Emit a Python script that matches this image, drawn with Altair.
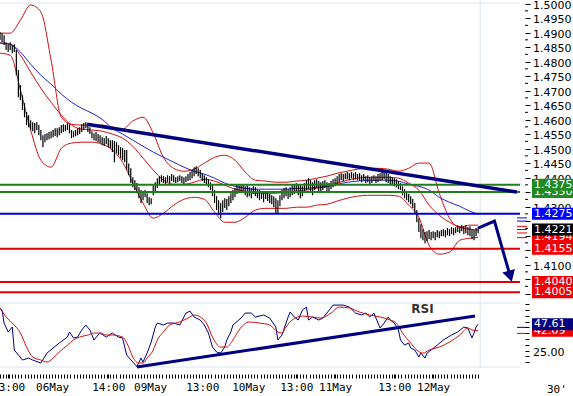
import altair as alt
import pandas as pd

# ---------------- data ----------------
BAR_HIGH = [
    1.4902, 1.4898, 1.4891, 1.4867, 1.4860, 1.4867, 1.4857, 1.4860, 1.4840, 1.4771,
    1.4719, 1.4684, 1.4657, 1.4626, 1.4615, 1.4598, 1.4591, 1.4588, 1.4591, 1.4581,
    1.4564, 1.4546, 1.4550, 1.4553, 1.4557, 1.4560, 1.4564, 1.4570, 1.4570, 1.4574,
    1.4581, 1.4584, 1.4581, 1.4588, 1.4584, 1.4564, 1.4560, 1.4564, 1.4570, 1.4574,
    1.4584, 1.4588, 1.4591, 1.4584, 1.4574, 1.4560, 1.4553, 1.4557, 1.4550, 1.4546,
    1.4539, 1.4536, 1.4543, 1.4536, 1.4529, 1.4529, 1.4526, 1.4522, 1.4512, 1.4505,
    1.4502, 1.4495, 1.4495, 1.4449, 1.4432, 1.4401, 1.4391, 1.4381, 1.4367, 1.4357,
    1.4350, 1.4357, 1.4346, 1.4332, 1.4329, 1.4374, 1.4384, 1.4398, 1.4405, 1.4408,
    1.4405, 1.4401, 1.4408, 1.4405, 1.4412, 1.4408, 1.4401, 1.4405, 1.4408, 1.4405,
    1.4401, 1.4405, 1.4412, 1.4419, 1.4426, 1.4436, 1.4439, 1.4432, 1.4426, 1.4415,
    1.4408, 1.4401, 1.4394, 1.4384, 1.4374, 1.4357, 1.4336, 1.4322, 1.4312, 1.4322,
    1.4329, 1.4326, 1.4336, 1.4346, 1.4357, 1.4364, 1.4374, 1.4377, 1.4374, 1.4377,
    1.4370, 1.4374, 1.4367, 1.4364, 1.4370, 1.4367, 1.4360, 1.4357, 1.4353, 1.4350,
    1.4353, 1.4346, 1.4343, 1.4339, 1.4336, 1.4329, 1.4322, 1.4339, 1.4357, 1.4364,
    1.4367, 1.4360, 1.4367, 1.4374, 1.4377, 1.4381, 1.4374, 1.4377, 1.4370, 1.4381,
    1.4391, 1.4398, 1.4391, 1.4384, 1.4391, 1.4394, 1.4388, 1.4384, 1.4388, 1.4391,
    1.4384, 1.4381, 1.4388, 1.4394, 1.4398, 1.4405, 1.4412, 1.4415, 1.4412, 1.4415,
    1.4419, 1.4415, 1.4419, 1.4415, 1.4419, 1.4412, 1.4415, 1.4408, 1.4412, 1.4405,
    1.4408, 1.4401, 1.4405, 1.4408, 1.4405, 1.4412, 1.4415, 1.4419, 1.4426, 1.4422,
    1.4412, 1.4405, 1.4401, 1.4398, 1.4394, 1.4388, 1.4381, 1.4370, 1.4360, 1.4353,
    1.4343, 1.4336, 1.4326, 1.4312, 1.4288, 1.4260, 1.4239, 1.4222, 1.4212, 1.4215,
    1.4219, 1.4212, 1.4215, 1.4212, 1.4219, 1.4215, 1.4219, 1.4222, 1.4219, 1.4226,
    1.4222, 1.4229, 1.4226, 1.4229, 1.4236, 1.4232, 1.4236, 1.4232, 1.4236, 1.4229,
    1.4232, 1.4222, 1.4219, 1.4226, 1.4229,
]
BAR_LOW = [
    1.4874, 1.4867, 1.4857, 1.4840, 1.4833, 1.4840, 1.4829, 1.4833, 1.4753, 1.4677,
    1.4667, 1.4633, 1.4608, 1.4581, 1.4574, 1.4564, 1.4560, 1.4553, 1.4564, 1.4546,
    1.4529, 1.4505, 1.4522, 1.4529, 1.4532, 1.4536, 1.4539, 1.4543, 1.4539, 1.4546,
    1.4553, 1.4557, 1.4560, 1.4564, 1.4553, 1.4536, 1.4539, 1.4543, 1.4546, 1.4550,
    1.4557, 1.4564, 1.4570, 1.4557, 1.4550, 1.4536, 1.4529, 1.4526, 1.4522, 1.4519,
    1.4512, 1.4509, 1.4515, 1.4505, 1.4502, 1.4488, 1.4453, 1.4484, 1.4477, 1.4467,
    1.4460, 1.4453, 1.4426, 1.4408, 1.4381, 1.4367, 1.4357, 1.4346, 1.4329, 1.4312,
    1.4322, 1.4332, 1.4312, 1.4305, 1.4308, 1.4339, 1.4346, 1.4364, 1.4377, 1.4384,
    1.4381, 1.4377, 1.4384, 1.4381, 1.4388, 1.4384, 1.4381, 1.4384, 1.4388, 1.4381,
    1.4377, 1.4384, 1.4388, 1.4391, 1.4398, 1.4405, 1.4412, 1.4405, 1.4398, 1.4388,
    1.4381, 1.4377, 1.4367, 1.4357, 1.4336, 1.4312, 1.4288, 1.4270, 1.4260, 1.4281,
    1.4295, 1.4288, 1.4301, 1.4312, 1.4322, 1.4332, 1.4343, 1.4350, 1.4346, 1.4353,
    1.4339, 1.4332, 1.4336, 1.4329, 1.4343, 1.4336, 1.4329, 1.4322, 1.4326, 1.4315,
    1.4326, 1.4319, 1.4312, 1.4308, 1.4298, 1.4277, 1.4277, 1.4301, 1.4322, 1.4329,
    1.4336, 1.4326, 1.4332, 1.4339, 1.4343, 1.4350, 1.4339, 1.4329, 1.4336, 1.4346,
    1.4357, 1.4360, 1.4353, 1.4339, 1.4357, 1.4364, 1.4350, 1.4346, 1.4357, 1.4364,
    1.4353, 1.4346, 1.4360, 1.4367, 1.4370, 1.4377, 1.4384, 1.4391, 1.4388, 1.4394,
    1.4394, 1.4391, 1.4398, 1.4391, 1.4394, 1.4391, 1.4388, 1.4384, 1.4391, 1.4381,
    1.4384, 1.4377, 1.4381, 1.4388, 1.4381, 1.4384, 1.4388, 1.4391, 1.4394, 1.4384,
    1.4381, 1.4377, 1.4374, 1.4370, 1.4367, 1.4360, 1.4357, 1.4339, 1.4329, 1.4322,
    1.4315, 1.4308, 1.4295, 1.4277, 1.4246, 1.4212, 1.4191, 1.4184, 1.4174, 1.4181,
    1.4188, 1.4184, 1.4191, 1.4184, 1.4194, 1.4191, 1.4198, 1.4198, 1.4194, 1.4201,
    1.4198, 1.4205, 1.4201, 1.4208, 1.4212, 1.4208, 1.4215, 1.4205, 1.4208, 1.4201,
    1.4198, 1.4188, 1.4184, 1.4198, 1.4208,
]

BAND_IDX = [0, 5, 10, 15, 20, 25, 30, 35, 40, 45, 50, 55, 60, 65, 70, 75, 80, 85, 90, 95,
            100, 105, 110, 115, 120, 125, 130, 135, 140, 145, 150, 155, 160, 165, 170, 175,
            180, 185, 190, 195, 200, 205, 210, 215, 220, 225, 230, 234]
BB_UPPER = [1.4898, 1.4898, 1.4943, 1.4995, 1.4971, 1.4805, 1.4608, 1.4584, 1.4581, 1.4581,
            1.4581, 1.4574, 1.4567, 1.4595, 1.4608, 1.4553, 1.4470, 1.4432, 1.4422, 1.4429,
            1.4450, 1.4470, 1.4477, 1.4460, 1.4419, 1.4391, 1.4388, 1.4384, 1.4384, 1.4388,
            1.4391, 1.4398, 1.4405, 1.4415, 1.4422, 1.4429, 1.4432, 1.4432, 1.4429, 1.4422,
            1.4432, 1.4450, 1.4450, 1.4346, 1.4260, 1.4229, 1.4236, 1.4236]
BB_MID = [1.4864, 1.4860, 1.4822, 1.4764, 1.4708, 1.4660, 1.4615, 1.4581, 1.4567, 1.4564,
          1.4560, 1.4550, 1.4536, 1.4508, 1.4467, 1.4426, 1.4391, 1.4377, 1.4377, 1.4384,
          1.4394, 1.4388, 1.4374, 1.4360, 1.4353, 1.4346, 1.4346, 1.4346, 1.4350, 1.4353,
          1.4357, 1.4363, 1.4370, 1.4381, 1.4391, 1.4398, 1.4401, 1.4401, 1.4401, 1.4398,
          1.4381, 1.4357, 1.4305, 1.4270, 1.4246, 1.4229, 1.4222, 1.4219]
BB_LOWER = [1.4829, 1.4822, 1.4702, 1.4564, 1.4460, 1.4436, 1.4501, 1.4519, 1.4522, 1.4522,
            1.4515, 1.4495, 1.4453, 1.4381, 1.4312, 1.4260, 1.4277, 1.4305, 1.4325, 1.4332,
            1.4325, 1.4281, 1.4246, 1.4246, 1.4263, 1.4288, 1.4294, 1.4294, 1.4294, 1.4298,
            1.4298, 1.4305, 1.4308, 1.4319, 1.4329, 1.4336, 1.4339, 1.4339, 1.4339, 1.4336,
            1.4305, 1.4263, 1.4167, 1.4136, 1.4143, 1.4184, 1.4191, 1.4194]
MA_LONG = [1.4864, 1.4860, 1.4833, 1.4791, 1.4753, 1.4722, 1.4688, 1.4660, 1.4639, 1.4622,
           1.4601, 1.4570, 1.4550, 1.4529, 1.4508, 1.4488, 1.4470, 1.4453, 1.4436, 1.4422,
           1.4412, 1.4398, 1.4381, 1.4370, 1.4363, 1.4360, 1.4360, 1.4360, 1.4360, 1.4363,
           1.4363, 1.4367, 1.4370, 1.4377, 1.4384, 1.4388, 1.4391, 1.4391, 1.4391, 1.4388,
           1.4377, 1.4370, 1.4357, 1.4332, 1.4315, 1.4301, 1.4284, 1.4274]

RSI_IDX = [0, 1, 2, 4, 6, 7, 9, 11, 14, 16, 20, 23, 26, 29, 33, 34, 36, 38, 40, 42,
           44, 46, 48, 49, 52, 55, 58, 60, 62, 65, 67, 69, 70, 72, 74, 76, 77, 80, 82, 85,
           88, 91, 93, 95, 98, 100, 102, 104, 106, 108, 110, 111, 113, 114, 118, 120, 123, 125, 129, 132,
           135, 136, 138, 141, 142, 144, 146, 148, 150, 151, 153, 156, 158, 160, 163, 166, 168, 171, 174, 177,
           179, 181, 183, 184, 186, 188, 190, 191, 193, 195, 196, 198, 200, 201, 203, 205, 206, 208, 209, 211,
           214, 217, 221, 224, 227, 229, 231, 232, 233, 234]
RSI_VAL = [61.6, 59.9, 48.7, 41.0, 45.3, 25.4, 21.1, 16.8, 18.5, 16.8, 14.2, 22.8, 27.2, 31.5, 36.6, 41.0, 35.8, 36.6, 42.7, 47.0,
           42.7, 34.1, 38.4, 40.1, 36.6, 40.1, 36.6, 35.8, 21.1, 15.1, 11.2, 18.5, 15.1, 22.8, 32.3, 45.3, 48.7, 47.0, 48.7, 48.7,
           47.0, 57.3, 59.0, 53.9, 51.3, 47.0, 40.1, 28.0, 23.7, 22.8, 28.0, 34.1, 41.0, 47.0, 53.0, 57.3, 57.3, 53.9, 55.6, 53.0,
           45.3, 34.1, 38.4, 53.9, 58.2, 53.9, 51.3, 59.9, 62.5, 51.3, 53.9, 51.3, 53.0, 57.3, 64.2, 64.2, 64.2, 62.5, 57.3, 55.6,
           57.3, 53.9, 57.3, 53.0, 44.4, 48.7, 53.9, 51.3, 48.7, 42.7, 34.1, 29.7, 31.5, 27.2, 25.4, 19.4, 22.8, 18.5, 22.8, 25.4,
           29.7, 34.1, 38.4, 41.0, 45.3, 44.4, 35.8, 40.1, 45.3, 47.61]
SIG_IDX = [0, 3, 6, 10, 13, 16, 20, 23, 26, 29, 33, 36, 39, 43, 46, 49, 52, 55, 60, 63,
           65, 68, 70, 72, 75, 77, 80, 83, 88, 92, 95, 98, 101, 104, 108, 111, 114, 117, 122, 127,
           132, 136, 138, 140, 143, 148, 153, 157, 162, 166, 171, 176, 181, 186, 191, 194, 197, 201, 204, 207,
           210, 215, 220, 225, 229, 231, 234]
SIG_VAL = [61.6, 53.9, 48.7, 40.1, 28.0, 19.4, 16.8, 15.1, 18.5, 23.7, 29.7, 34.1, 36.6, 38.4, 40.1, 40.1, 38.4, 38.4, 36.6, 28.0,
           19.4, 14.2, 14.2, 18.5, 25.4, 34.1, 41.0, 47.0, 49.6, 53.0, 55.6, 53.9, 48.7, 36.6, 28.0, 28.0, 34.1, 42.7, 49.6, 48.7,
           47.0, 41.0, 40.1, 45.3, 51.3, 54.7, 53.9, 53.0, 57.3, 62.5, 61.6, 58.2, 55.6, 53.9, 51.3, 48.7, 40.1, 31.5, 25.4, 22.8,
           25.4, 28.0, 32.3, 38.4, 44.4, 42.7, 42.09]

TREND_IDX = [42.6, 253.0]
TREND_PRICE = [1.4584, 1.4350]
ARROW_IDX = [234, 242, 249.7]
ARROW_PRICE = [1.4226, 1.4250, 1.4060]
RSI_TREND_IDX = [67, 232.5]
RSI_TREND_VAL = [10.8, 54.7]

LEVEL_PRICE = [1.4375, 1.4350, 1.4275, 1.4155, 1.4040, 1.4005]
LEVEL_KIND = ['green', 'green', 'blue', 'red', 'red', 'red']

# right-hand value boxes, in drawing order (later ones cover earlier ones)
BOX_PRICE = [1.4350, 1.4375, 1.4275, 1.4194, 1.4221, 1.4155, 1.4040, 1.4005]
BOX_KIND = ['green', 'green', 'blue', 'red', 'black', 'red', 'red', 'red']
RSI_BOX_VAL = [42.09, 47.61]
RSI_BOX_KIND = ['red', 'navy']

MARK_PRICE = [1.4261, 1.4250, 1.4232, 1.4221, 1.4209, 1.4193]
MARK_KIND = ['blue', 'blue', 'red', 'red', 'red', 'red']
RSI_MARK_VAL = [45.0, 39.8]
RSI_MARK_KIND = ['navy', 'red']

# price scale: long ticks every 0.0050, short ticks in between; labels that are not hidden by boxes
P_TICKS = [round(1.4000 + 0.005 * k, 4) for k in range(21)]
P_MINOR = [round(1.40250 + 0.005 * k, 5) for k in range(20)]
P_LABELS = [1.5000, 1.4950, 1.4900, 1.4850, 1.4800, 1.4750, 1.4700, 1.4650, 1.4600, 1.4550,
            1.4500, 1.4450, 1.4400, 1.4300, 1.4100]
R_TICKS = [15, 20, 25, 30, 35, 40, 45, 50, 55, 60, 65]
R_LABELS = [25.0]

DATE_IDX = [4, 25.5, 53, 73.5, 99, 121.5, 145, 164, 193, 212]
DATE_LABELS = ['13:00', '06May', '14:00', '09May', '13:00', '10May', '13:00', '11May', '13:00', '12May']

NOW_IDX = [235]
P_DOMAIN = [1.3990, 1.5002]
R_DOMAIN = [10.8, 66.0]
X_DOMAIN = [0, 254.5]

# ---------------- styling ----------------
COL = {'green': '#1f7f1f', 'blue': '#0000d8', 'red': '#e00000', 'black': '#000000', 'navy': '#000080'}
BOXCOL = {'green': '#1f8a1f', 'blue': '#0000ff', 'red': '#f00000', 'black': '#000000', 'navy': '#000080'}
FRAME = '#dbe5ec'
BB_RED = '#cc1111'
MA_BLUE = '#2222cc'
NAVY = '#000080'

xs = alt.Scale(domain=X_DOMAIN, nice=False, zero=False)
ps = alt.Scale(domain=P_DOMAIN, range=[296.5, 3], nice=False, zero=False)
rs = alt.Scale(domain=R_DOMAIN, range=[367, 303], nice=False, zero=False)

tick_vals = sorted(set([round(k * 1.5, 2) for k in range(157)] + DATE_IDX))
label_expr = ''.join(f"datum.value == {v} ? '{t}' : " for v, t in zip(DATE_IDX, DATE_LABELS)) + "''"
x_axis = alt.Axis(orient='bottom', values=tick_vals, labelExpr=label_expr, offset=6, tickSize=4,
                  tickColor='black', domain=False, grid=False, labelFont='DejaVu Sans Mono',
                  labelFontSize=11, labelColor='black', labelPadding=3, labelOverlap=False,
                  labelFlush=False, labelAngle=0, title=None, zindex=0)
p_axis = alt.Axis(orient='right', values=P_TICKS, labels=False, offset=5, tickSize=5,
                  tickColor='black', domain=False, grid=False, title=None, zindex=0)
r_axis = alt.Axis(orient='right', values=R_TICKS, labels=False, offset=5, tickSize=4,
                  tickColor='black', domain=False, grid=False, title=None, zindex=0)

bars = pd.DataFrame({'i': list(range(len(BAR_HIGH))), 'hi': BAR_HIGH, 'lo': BAR_LOW})
bands = pd.DataFrame({'i': BAND_IDX, 'up': BB_UPPER, 'mid': BB_MID, 'low': BB_LOWER, 'ma': MA_LONG})
levels = pd.DataFrame({'p': LEVEL_PRICE, 'k': LEVEL_KIND})
boxes = pd.DataFrame({'p': BOX_PRICE, 'k': BOX_KIND, 'lab': [f'{v:.4f}' for v in BOX_PRICE]})
marks = pd.DataFrame({'p': MARK_PRICE, 'k': MARK_KIND})
trend = pd.DataFrame({'i': TREND_IDX, 'p': TREND_PRICE})
arrow = pd.DataFrame({'i': ARROW_IDX, 'p': ARROW_PRICE})
rsi = pd.DataFrame({'i': RSI_IDX, 'v': RSI_VAL})
sig = pd.DataFrame({'i': SIG_IDX, 'v': SIG_VAL})
rtrend = pd.DataFrame({'i': RSI_TREND_IDX, 'v': RSI_TREND_VAL})
rboxes = pd.DataFrame({'v': RSI_BOX_VAL, 'k': RSI_BOX_KIND, 'lab': [f'{v:.2f}' for v in RSI_BOX_VAL]})
rmarks = pd.DataFrame({'v': RSI_MARK_VAL, 'k': RSI_MARK_KIND})
plabels = pd.DataFrame({'p': P_LABELS, 'lab': [f'{v:.4f}' for v in P_LABELS]})
pminor = pd.DataFrame({'p': P_MINOR})
rlabels = pd.DataFrame({'v': R_LABELS, 'lab': [f'{v:.2f}' for v in R_LABELS]})

kind_scale = alt.Scale(domain=list(COL.keys()), range=list(COL.values()))


def X(f):
    return alt.X(f, type='quantitative', scale=xs, axis=x_axis)


def P(f):
    return alt.Y(f, type='quantitative', scale=ps, axis=p_axis)


def R(f):
    return alt.Y(f, type='quantitative', scale=rs, axis=r_axis)


LABEL_STYLE = dict(align='left', baseline='middle', font='DejaVu Sans', fontSize=11)


def value_boxes(df, ych):
    """One box + its white text per row, in row order, so later boxes cover earlier ones."""
    out = []
    for j in range(len(df)):
        row = df.iloc[[j]]
        out.append(alt.Chart(row).mark_tick(orient='horizontal', size=42, thickness=12, opacity=1,
                                            color=BOXCOL[row['k'].iloc[0]]).encode(x=alt.value(553), y=ych))
        out.append(alt.Chart(row).mark_text(color='white', **LABEL_STYLE).encode(
            x=alt.value(534), y=ych, text='lab:N'))
    return out


# ---------------- price panel ----------------
frame_top = alt.Chart(pd.DataFrame({'p': [P_DOMAIN[1]]})).mark_rule(color=FRAME, strokeWidth=1).encode(y=P('p'))
now_line = alt.Chart(pd.DataFrame({'i': NOW_IDX})).mark_rule(color=FRAME, strokeWidth=1).encode(x=X('i'))

band_layers = []
for col, colr in [('up', BB_RED), ('mid', BB_RED), ('low', BB_RED), ('ma', MA_BLUE)]:
    band_layers.append(alt.Chart(bands).mark_line(color=colr, strokeWidth=1, interpolate='monotone')
                       .encode(x=X('i'), y=P(col)))

bar_layer = alt.Chart(bars).mark_rule(color='black', strokeWidth=1.2).encode(x=X('i'), y=P('lo'), y2='hi')

level_layer = alt.Chart(levels).mark_rule(strokeWidth=2).encode(
    y=P('p'), color=alt.Color('k:N', scale=kind_scale, legend=None))

trend_layer = alt.Chart(trend).mark_line(color=NAVY, strokeWidth=3.5).encode(x=X('i'), y=P('p'))
arrow_layer = alt.Chart(arrow).mark_line(color=NAVY, strokeWidth=3).encode(x=X('i'), y=P('p'), order='i:Q')
arrow_head = alt.Chart(arrow.tail(1)).mark_point(shape='triangle-down', filled=True, size=170,
                                                 color=NAVY, opacity=1, angle=344).encode(x=X('i'), y=P('p'))

pminor_layer = alt.Chart(pminor).mark_tick(orient='horizontal', size=3, thickness=1, opacity=1,
                                           color='black').encode(x=alt.value(526.5), y=P('p'))
plabel_layer = alt.Chart(plabels).mark_text(color='black', dy=2, **LABEL_STYLE).encode(
    x=alt.value(533), y=P('p'), text='lab:N')

mark_layer = alt.Chart(marks).mark_tick(orient='horizontal', size=10, thickness=1, opacity=1).encode(
    x=alt.value(522), y=P('p'), color=alt.Color('k:N', scale=kind_scale, legend=None))

tf_text = alt.Chart(pd.DataFrame({'t': ["30'"]})).mark_text(
    align='left', baseline='middle', font='DejaVu Sans Mono', fontSize=11, color='black').encode(
    x=alt.value(547), y=alt.value(390), text='t:N')

price = alt.layer(frame_top, now_line, *band_layers, bar_layer, level_layer, trend_layer,
                  arrow_layer, arrow_head, pminor_layer, plabel_layer, mark_layer,
                  *value_boxes(boxes, P('p')), tf_text)

# ---------------- RSI panel ----------------
rframe = alt.Chart(pd.DataFrame({'v': R_DOMAIN})).mark_rule(color=FRAME, strokeWidth=1).encode(y=R('v'))
rsi_line = alt.Chart(rsi).mark_line(color=NAVY, strokeWidth=1).encode(x=X('i'), y=R('v'))
sig_line = alt.Chart(sig).mark_line(color='#cc1111', strokeWidth=1, interpolate='monotone').encode(x=X('i'), y=R('v'))
rtrend_layer = alt.Chart(rtrend).mark_line(color=NAVY, strokeWidth=3).encode(x=X('i'), y=R('v'))
rsi_label = alt.Chart(pd.DataFrame({'i': [206.8], 'v': [60.8], 't': ['RSI']})).mark_text(
    font='DejaVu Sans', fontSize=12, fontWeight='bold', color='#333333').encode(x=X('i'), y=R('v'), text='t:N')
rlabel_layer = alt.Chart(rlabels).mark_text(color='black', dy=2, **LABEL_STYLE).encode(
    x=alt.value(533), y=R('v'), text='lab:N')
rmark_layer = alt.Chart(rmarks).mark_tick(orient='horizontal', size=10, thickness=1, opacity=1).encode(
    x=alt.value(522), y=R('v'), color=alt.Color('k:N', scale=kind_scale, legend=None))

rsi_panel = alt.layer(rframe, rsi_line, sig_line, rtrend_layer, rsi_label, rlabel_layer,
                      rmark_layer, *value_boxes(rboxes, R('v')))

chart = alt.layer(price, rsi_panel).resolve_scale(y='independent', color='independent').properties(
    width=520, height=368,
    autosize=alt.AutoSizeParams(type='none'),
    padding={'left': 0, 'top': 0, 'right': 53, 'bottom': 28},
    background='white',
).configure_view(stroke=None)

chart.save('out.html', embed_options={'renderer': 'svg', 'actions': False})
